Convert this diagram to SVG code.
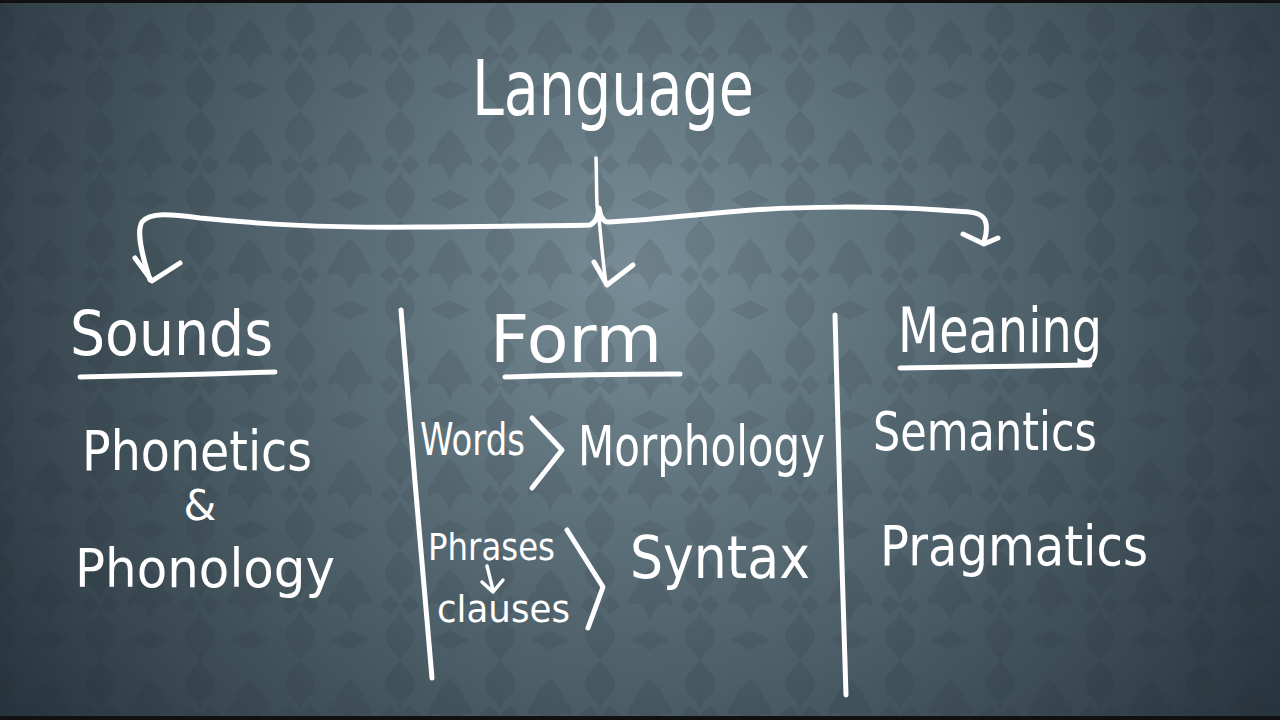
<svg xmlns="http://www.w3.org/2000/svg" width="1280" height="720" viewBox="0 0 1280 720">
<defs>
<radialGradient id="bg" cx="640" cy="270" r="780" gradientUnits="userSpaceOnUse">
<stop offset="0" stop-color="#788d97"/>
<stop offset="0.45" stop-color="#53666f"/>
<stop offset="1" stop-color="#28343d"/>
</radialGradient>
<pattern id="damask" width="100" height="110" patternUnits="userSpaceOnUse">
<g fill="#1c2830" opacity="0.12">
<path d="M50 18 C42 28 32 34 36 48 C40 58 46 56 50 72 C54 56 60 58 64 48 C68 34 58 28 50 18 Z"/>
<path d="M50 40 C38 36 26 44 28 56 C34 52 40 52 46 58 Z M50 40 C62 36 74 44 72 56 C66 52 60 52 54 58 Z"/>
<path d="M0 55 L10 45 L20 55 L10 65 Z M80 55 L90 45 L100 55 L90 65 Z"/>
<path d="M0 0 C-8 10 -18 16 -14 30 C-10 38 -4 36 0 50 C4 36 10 38 14 30 C18 16 8 10 0 0 Z"/>
<path d="M100 0 C92 10 82 16 86 30 C90 38 96 36 100 50 C104 36 110 38 114 30 C118 16 108 10 100 0 Z"/>
<path d="M0 110 C-8 100 -18 94 -14 80 C-10 72 -4 74 0 60 C4 74 10 72 14 80 C18 94 8 100 0 110 Z"/>
<path d="M100 110 C92 100 82 94 86 80 C90 72 96 74 100 60 C104 74 110 72 114 80 C118 94 108 100 100 110 Z"/>
<path d="M30 90 L50 80 L70 90 L50 100 Z"/>
</g>
</pattern>
<style>
.hand{fill:#ffffff;font-family:"DejaVu Sans","Liberation Sans",sans-serif;font-weight:normal}
.ln{fill:none;stroke:#ffffff;stroke-width:5;stroke-linecap:round;stroke-linejoin:round}
.thin{stroke-width:3.5}
</style>
</defs>
<rect width="1280" height="720" fill="url(#bg)"/>
<rect width="1280" height="720" fill="url(#damask)"/>
<rect x="0" y="0" width="1280" height="3" fill="#111"/>
<rect x="0" y="716" width="1280" height="4" fill="#111"/>

<g id="connectors">
<path class="ln thin" d="M596 158 C597 185 596 205 598 215"/>
<path class="ln" d="M150 280 C142 255 136 232 142 222 C150 212 170 214 200 218 C260 224 320 228 420 227 C500 226 560 226 590 225 C597 222 598 214 599 208 C600 214 602 222 608 222 C640 221 680 216 740 211 C800 206 880 206 940 210 C965 212 980 210 985 220 C988 228 986 236 984 242"/>
<path class="ln" d="M135 258 L152 281 L180 263"/>
<path class="ln thin" d="M599 218 C601 240 603 262 606 284"/>
<path class="ln" d="M594 262 L607 285 L633 265"/>
<path class="ln" d="M963 234 L984 244 L998 238"/>
<path class="ln" d="M401 310 C410 430 422 560 432 678"/>
<path class="ln" d="M835 315 C838 440 842 570 846 695"/>
<path class="ln" d="M80 377 C140 376 210 374 275 372"/>
<path class="ln" d="M505 377 C560 375 620 374 680 374"/>
<path class="ln" d="M900 368 C960 367 1030 366 1090 365"/>
<path class="ln" d="M532 418 L562 450 L532 488"/>
<path class="ln" d="M567 530 L603 587 L588 628"/>
<path class="ln thin" d="M487 566 L493 590 M482 582 L493 592 L503 580"/>
</g>

<g id="language"><text class="hand" x="472" y="115" font-size="76" textLength="282" lengthAdjust="spacingAndGlyphs">Language</text></g>
<g id="sounds"><text class="hand" x="70" y="355" font-size="62" textLength="203" lengthAdjust="spacingAndGlyphs">Sounds</text></g>
<g id="form"><text class="hand" x="490" y="362" font-size="66" textLength="172" lengthAdjust="spacingAndGlyphs">Form</text></g>
<g id="meaning"><text class="hand" x="898" y="352" font-size="62" textLength="204" lengthAdjust="spacingAndGlyphs">Meaning</text></g>
<g id="phonetics"><text class="hand" x="82" y="470" font-size="56" textLength="230" lengthAdjust="spacingAndGlyphs">Phonetics</text>
<text class="hand" x="200" y="520" font-size="42" text-anchor="middle">&amp;</text>
<text class="hand" x="75" y="587" font-size="54" textLength="260" lengthAdjust="spacingAndGlyphs">Phonology</text></g>
<g id="words"><text class="hand" x="420" y="455" font-size="44" textLength="105" lengthAdjust="spacingAndGlyphs">Words</text></g>
<g id="morphology"><text class="hand" x="578" y="465" font-size="56" textLength="247" lengthAdjust="spacingAndGlyphs">Morphology</text></g>
<g id="phrases"><text class="hand" x="428" y="560" font-size="38" textLength="127" lengthAdjust="spacingAndGlyphs">Phrases</text>
<text class="hand" x="437" y="622" font-size="38" textLength="133" lengthAdjust="spacingAndGlyphs">clauses</text></g>
<g id="syntax"><text class="hand" x="630" y="578" font-size="58" textLength="180" lengthAdjust="spacingAndGlyphs">Syntax</text></g>
<g id="semantics"><text class="hand" x="873" y="450" font-size="54" textLength="224" lengthAdjust="spacingAndGlyphs">Semantics</text></g>
<g id="pragmatics"><text class="hand" x="880" y="565" font-size="56" textLength="268" lengthAdjust="spacingAndGlyphs">Pragmatics</text></g>
</svg>
